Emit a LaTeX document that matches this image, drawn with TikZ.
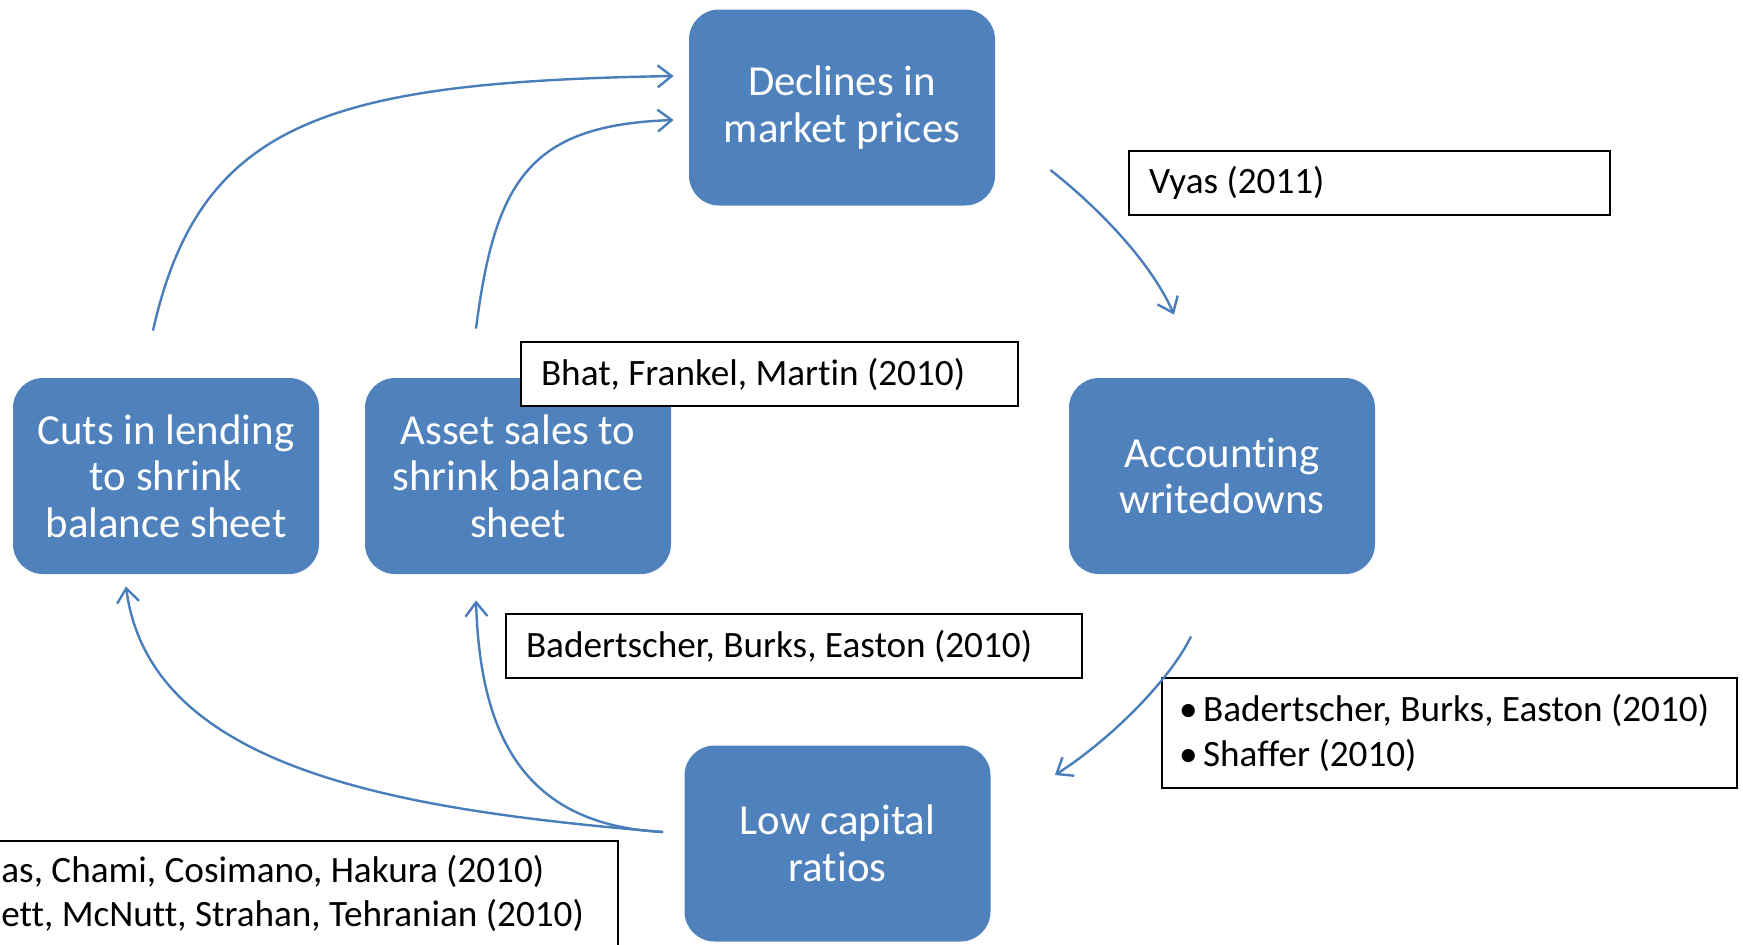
\documentclass[tikz,border=0pt]{standalone}
\usepackage{fontspec}
\setmainfont{Carlito}[Ligatures={NoCommon,NoDiscretionary,NoRare,NoContextual}]
\usetikzlibrary{arrows.meta,calc}
\definecolor{boxblue}{HTML}{4F81BD}
\definecolor{arrblue}{HTML}{4A7EBB}
\newcommand{\lline}[2]{\makebox[#1][l]{#2}}
\newcommand{\mybul}{\makebox[10.5pt][l]{\kern-1.5pt\textbullet}}
\begin{document}
\begin{tikzpicture}[x=0.5pt,y=-0.5pt,
  bluebox/.style={rectangle, rounded corners=15pt, fill=boxblue, text=white,
    minimum width=153pt, minimum height=98pt, align=center, inner sep=0pt,
    font=\fontsize{21.4}{23.3}\selectfont},
  refbox/.style={rectangle, draw=black, line width=1pt, fill=white,
    minimum height=32pt, inner xsep=10pt, align=left,
    font=\fontsize{18.6}{22.25}\selectfont},
  flow/.style={draw=arrblue, line width=1.2pt,
    -{Straight Barb[length=7pt,width=11pt]}}]
\useasboundingbox (0,0) rectangle (1743,944);
\begin{scope}
\clip (0,0) rectangle (1743,944);

% main boxes
\node[bluebox] (declines) at (842,107.5) {Declines in\\market prices};
\node[bluebox] (cuts) at (166,476) {Cuts in lending\\to shrink\\balance sheet};
\node[bluebox] (asset) at (518,476) {Asset sales to\\shrink balance\\sheet};
\node[bluebox] (acct) at (1222,476) {Accounting\\writedowns};
\node[bluebox] (lowcap) at (837.5,843.5) {Low capital\\ratios};

% reference boxes
\node[refbox] (vyas) at (1369.5,182.5) {\lline{220.5pt}{Vyas (2011)}};
\node[refbox] (bhat) at (769.5,374) {\lline{228.5pt}{Bhat, Frankel, Martin (2010)}};
\node[refbox] (bbe) at (794,646) {\lline{268pt}{Badertscher, Burks, Easton (2010)}};
\node[refbox, minimum height=55pt] (list) at (1449.5,733)
  {\lline{267.5pt}{\mybul Badertscher, Burks, Easton (2010)}\\
   \lline{267.5pt}{\mybul Shaffer (2010)}};
\draw[line width=1pt, fill=white] (-20,841) rectangle (618,990);
\node[anchor=west, align=left, inner sep=0pt, font=\fontsize{18.6}{22.25}\selectfont]
  (blref) at (1,893.5) {as, Chami, Cosimano, Hakura (2010)\\ett, McNutt, Strahan, Tehranian (2010)};

% connector end points
\coordinate (a1s) at ($(cuts.north)+(-13,-47)$);
\coordinate (a1e) at ($(declines.west)+(-15,-31.5)$);
\coordinate (a2s) at ($(asset.north)+(-42,-49)$);
\coordinate (a2e) at ($(declines.west)+(-15,12.5)$);
\coordinate (a3s) at ($(declines.east)+(55,62.5)$);
\coordinate (a3e) at ($(acct.north)+(-48,-63)$);
\coordinate (a4s) at ($(acct.south)+(-31,62)$);
\coordinate (a4e) at ($(lowcap.east)+(64,-68.5)$);
\coordinate (a5s) at ($(lowcap.west)+(-21,-11.5)$);
\coordinate (a5e) at ($(cuts.south)+(-40,12)$);
\coordinate (a6e) at ($(asset.south)+(-42,26)$);

% connectors
\draw[flow] (a1s) .. controls (200,120) and (330,82) .. (a1e);
\draw[flow] (a2s) .. controls (495,180) and (530,125) .. (a2e);
\draw[flow] (a3s) .. controls (1095,205) and (1150,260) .. (a3e);
\draw[flow] (a4s) .. controls (1170,680) and (1110,740) .. (a4e);
\draw[flow] (a5s) .. controls (400,810) and (150,770) .. (a5e);
\draw[flow] (a5s) .. controls (520,825) and (480,730) .. (a6e);
\end{scope}
\end{tikzpicture}
\end{document}
